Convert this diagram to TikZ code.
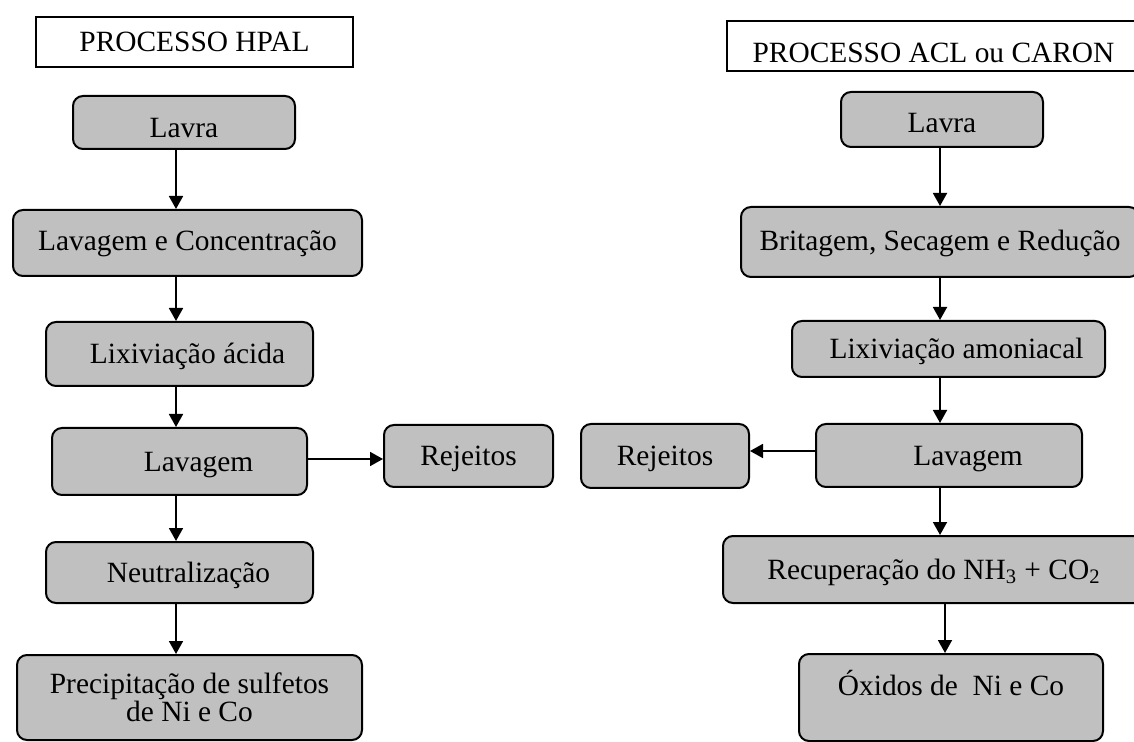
\documentclass[tikz,border=0pt]{standalone}
\usepackage{fontspec}
\setmainfont{Liberation Serif}
\usetikzlibrary{arrows.meta}
\definecolor{boxgray}{RGB}{192,192,192}

\begin{document}
\begin{tikzpicture}[x=0.5pt,y=-0.5pt,
  stagetall/.style={draw,line width=1pt,fill=boxgray,rounded corners=5pt,inner sep=2pt,align=center,font=\fontsize{14.7pt}{14.2pt}\selectfont},
  stage/.style={stagetall,text height=9.7pt,text depth=0pt},
  heading/.style={draw,line width=0.8pt,fill=white,inner sep=2pt,text height=9.7pt,text depth=0pt,font=\fontsize{14.7pt}{14.2pt}\selectfont},
  flow/.style={line width=0.9pt,-{Triangle[length=6.5pt,width=7pt]}}]
  \useasboundingbox (0,0) rectangle (1134,742);
  % left column: HPAL
  \coordinate (spineL) at (176,0);
  \coordinate (armL) at (0,459);
  \node[heading,minimum width=158.5pt,minimum height=25pt] (titleL) at (194.5,42) {PROCESSO HPAL};
  \node[stage,text height=14.7pt,minimum width=111pt,minimum height=26.5pt] (lavraL) at (184,122.5) {Lavra};
  \node[stage,text height=7.3pt,minimum width=174.5pt,minimum height=33pt] (concL) at (187.5,243) {Lavagem e Concentração};
  \node[stage,minimum width=133.5pt,minimum height=32pt] (lixL) at (179.5,354) {\hspace*{8pt}Lixiviação ácida};
  \node[stage,minimum width=127.5pt,minimum height=33.5pt] (lavL) at (179.5,461.5) {\hspace*{19pt}Lavagem};
  \node[stage,minimum width=84.5pt,minimum height=31pt] (rejL) at (468.5,456) {Rejeitos};
  \node[stage,minimum width=133.5pt,minimum height=30.5pt] (neuL) at (179.5,572.5) {\hspace*{9pt}Neutralização};
  \node[stagetall,minimum width=172.5pt,minimum height=42.5pt] (preL) at (189.5,697.5) {Precipitação de sulfetos\\de Ni e Co};
  \draw[flow] (lavraL.south -| spineL) -- (concL.north -| spineL);
  \draw[flow] (concL.south -| spineL) -- (lixL.north -| spineL);
  \draw[flow] (lixL.south -| spineL) -- (lavL.north -| spineL);
  \draw[flow] (lavL.south -| spineL) -- (neuL.north -| spineL);
  \draw[flow] (neuL.south -| spineL) -- (preL.north -| spineL);
  \draw[flow] (lavL.east |- armL) -- (rejL.west |- armL);
  % right column: ACL / Caron
  \coordinate (spineR) at (940,0);
  \coordinate (spineRb) at (945,0);
  \coordinate (armR) at (0,451);
  \node[heading,text height=16.8pt,minimum width=206.5pt,minimum height=25pt] (titleR) at (933.5,46) {PROCESSO ACL ou CARON};
  \node[stage,text height=13.2pt,minimum width=101pt,minimum height=27.5pt] (lavraR) at (942,119.5) {Lavra};
  \node[stage,text height=8.3pt,minimum width=199pt,minimum height=35pt] (briR) at (940,242) {Britagem, Secagem e Redução};
  \node[stage,minimum width=156.5pt,minimum height=28pt] (lixR) at (948.5,349) {\hspace*{8pt}Lixiviação amoniacal};
  \node[stage,minimum width=133pt,minimum height=31.5pt] (lavR) at (949,455.5) {\hspace*{19pt}Lavagem};
  \node[stage,minimum width=84pt,minimum height=32pt] (rejR) at (665,456) {Rejeitos};
  \node[stage,minimum width=211pt,minimum height=33.5pt] (recR) at (934,569.5) {Recuperação do NH\textsubscript{3} + CO\textsubscript{2}};
  \node[stagetall,minimum width=152pt,minimum height=43.5pt] (oxiR) at (951,697.5) {Óxidos de\ \ Ni e Co\\~};
  \draw[flow] (lavraR.south -| spineR) -- (briR.north -| spineR);
  \draw[flow] (briR.south -| spineR) -- (lixR.north -| spineR);
  \draw[flow] (lixR.south -| spineR) -- (lavR.north -| spineR);
  \draw[flow] (lavR.south -| spineR) -- (recR.north -| spineR);
  \draw[flow] (recR.south -| spineRb) -- (oxiR.north -| spineRb);
  \draw[flow] (lavR.west |- armR) -- (rejR.east |- armR);
\end{tikzpicture}
\end{document}
